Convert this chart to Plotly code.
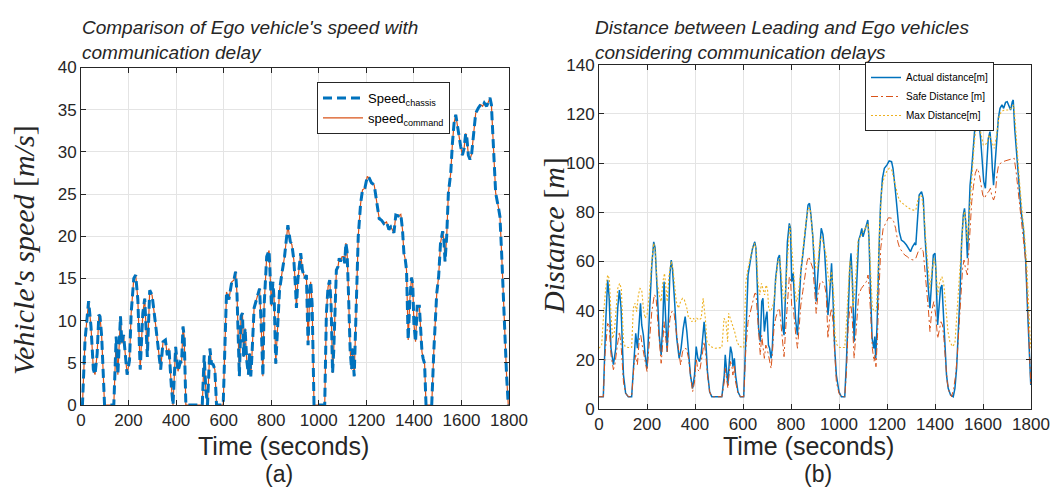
import plotly.graph_objects as go

# ---------------- data: (a) speed ----------------
speed_time = [0, 6, 17, 32, 42, 52, 59, 68, 75, 80, 87, 99, 138, 148, 155, 166, 172, 179, 194, 204,
              211, 222, 230, 239, 249, 260, 268, 272, 275, 279, 289, 299, 313, 324, 335, 345, 355, 363, 370, 380,
              387, 398, 408, 418, 423, 429, 434, 441, 510, 518, 525, 532, 542, 549, 556, 563, 570, 598, 605, 612,
              622, 634, 643, 650, 656, 662, 666, 673, 679, 684, 690, 697, 704, 709, 714, 719, 728, 739, 751, 758,
              765, 770, 781, 791, 796, 801, 807, 813, 819, 826, 835, 845, 856, 870, 880, 887, 895, 902, 906, 912,
              920, 924, 931, 941, 948, 955, 962, 966, 972, 980, 1025, 1032, 1039, 1046, 1052, 1058, 1063, 1067, 1074, 1081,
              1086, 1091, 1098, 1105, 1109, 1114, 1119, 1125, 1132, 1138, 1142, 1149, 1156, 1166, 1176, 1184, 1194, 1204, 1212, 1222,
              1233, 1243, 1254, 1264, 1274, 1285, 1295, 1303, 1316, 1324, 1334, 1345, 1352, 1358, 1364, 1369, 1376, 1383, 1390, 1395,
              1400, 1407, 1414, 1423, 1428, 1434, 1439, 1445, 1451, 1475, 1484, 1496, 1504, 1512, 1521, 1526, 1531, 1538, 1545, 1555,
              1562, 1569, 1576, 1583, 1590, 1597, 1604, 1611, 1618, 1623, 1629, 1636, 1643, 1650, 1660, 1671, 1681, 1689, 1696, 1706,
              1716, 1720, 1726, 1734, 1744, 1755, 1762, 1769, 1776, 1783, 1790, 1797]
speed_chassis = [0, 0, 7.7, 12.3, 9.3, 4.2, 3.6, 6.1, 10.7, 10.5, 8.1, 0, 0, 8.1, 3.6, 10.5, 7.3, 8.3, 3.6, 5.3,
                 10.9, 15.0, 15.4, 12.5, 4.2, 10.9, 12.6, 10.1, 7.3, 5.7, 13.6, 13.0, 9.7, 6.9, 4.2, 7.5, 7.7, 5.9, 6.7, 2.2,
                 0, 6.9, 4.0, 5.1, 5.0, 9.3, 8.1, 0, 0, 5.9, 1.8, 0, 6.7, 4.9, 4.8, 4.2, 0, 0, 8.1, 13.4,
                 12.5, 14.6, 14.8, 15.8, 13.2, 6.9, 3.4, 10.5, 10.9, 5.7, 9.1, 5.3, 3.6, 6.1, 3.4, 5.9, 11.5, 12.6, 13.8, 9.3,
                 3.4, 11.7, 17.6, 18.3, 14.8, 11.7, 14.6, 12.1, 4.9, 9.1, 13.6, 15.6, 17.6, 21.3, 19.4, 19.0, 17.2, 14.0, 11.5, 14.8,
                 16.8, 18.0, 16.0, 15.0, 15.4, 7.1, 13.6, 14.6, 12.0, 0, 0, 10.9, 14.0, 14.8, 11.7, 3.8, 6.5, 10.9, 16.0, 16.4,
                 17.4, 17.0, 17.6, 17.6, 16.8, 19.2, 18.2, 13.2, 6.5, 4.2, 6.7, 3.4, 10.5, 20.0, 23.9, 25.5, 25.7, 27.1, 26.9, 26.3,
                 26.1, 24.3, 22.1, 21.9, 21.5, 21.7, 20.8, 21.1, 20.4, 22.5, 22.4, 22.6, 20.8, 18.0, 17.2, 16.0, 7.7, 12.5, 15.1, 14.4,
                 9.7, 7.5, 11.7, 11.7, 9.3, 6.3, 5.5, 4.9, 0, 0, 6.5, 13.2, 15.2, 19.2, 20.6, 19.6, 17.0, 20.0, 25.1, 27.5,
                 31.0, 33.4, 34.4, 33.0, 31.6, 30.6, 29.6, 30.4, 32.2, 31.6, 29.6, 29.1, 29.8, 31.8, 34.6, 35.2, 35.6, 35.4, 35.8, 35.4,
                 36.0, 36.4, 35.6, 30.6, 25.1, 23.5, 22.3, 18.0, 13.2, 7.3, 3.4, 0]
speed_command = [0, 0, 7.7, 12.3, 9.3, 4.2, 3.6, 6.1, 10.7, 10.5, 8.1, 0, 0, 8.1, 3.6, 10.5, 7.3, 8.3, 3.6, 5.3,
                 10.9, 15.0, 15.4, 12.5, 4.2, 10.9, 12.6, 10.1, 7.3, 5.7, 13.6, 13.0, 9.7, 6.9, 4.2, 7.5, 7.7, 5.9, 6.7, 2.2,
                 0, 6.9, 4.0, 5.1, 5.0, 9.3, 8.1, 0, 0, 5.9, 1.8, 0, 6.7, 4.9, 4.8, 4.2, 0, 0, 8.1, 13.4,
                 12.5, 14.6, 14.8, 15.8, 13.2, 6.9, 3.4, 10.5, 10.9, 5.7, 9.1, 5.3, 3.6, 6.1, 3.4, 5.9, 11.5, 12.6, 13.8, 9.3,
                 3.4, 11.7, 17.6, 18.3, 14.8, 11.7, 14.6, 12.1, 4.9, 9.1, 13.6, 15.6, 17.6, 21.3, 19.4, 19.0, 17.2, 14.0, 11.5, 14.8,
                 16.8, 18.0, 16.0, 15.0, 15.4, 7.1, 13.6, 14.6, 12.0, 0, 0, 10.9, 14.0, 14.8, 11.7, 3.8, 6.5, 10.9, 16.0, 16.4,
                 17.4, 17.0, 17.6, 17.6, 16.8, 19.2, 18.2, 13.2, 6.5, 4.2, 6.7, 3.4, 10.5, 20.0, 23.9, 25.5, 25.7, 27.1, 26.9, 26.3,
                 26.1, 24.3, 22.1, 21.9, 21.5, 21.7, 20.8, 21.1, 20.4, 22.5, 22.4, 22.6, 20.8, 18.0, 17.2, 16.0, 7.7, 12.5, 15.1, 14.4,
                 9.7, 7.5, 11.7, 11.7, 9.3, 6.3, 5.5, 4.9, 0, 0, 6.5, 13.2, 15.2, 19.2, 20.6, 19.6, 17.0, 20.0, 25.1, 27.5,
                 31.0, 33.4, 34.4, 33.0, 31.6, 30.6, 29.6, 30.4, 32.2, 31.6, 29.6, 29.1, 29.8, 31.8, 34.6, 35.2, 35.6, 35.4, 35.8, 35.4,
                 36.0, 36.4, 35.6, 30.6, 25.1, 23.5, 22.3, 18.0, 13.2, 7.3, 3.4, 0]

# ---------------- data: (b) distances ----------------
actual_time = [0, 18, 28, 36, 42, 50, 60, 70, 78, 85, 92, 102, 111, 122, 136, 146, 153, 160, 167, 173,
               178, 185, 192, 200, 210, 220, 228, 234, 242, 251, 259, 266, 271, 278, 284, 290, 295, 301, 306, 315,
               324, 334, 342, 351, 359, 366, 373, 381, 390, 398, 405, 412, 419, 426, 433, 438, 445, 452, 461, 470,
               512, 522, 526, 533, 537, 543, 548, 554, 558, 564, 569, 579, 589, 603, 612, 621, 631, 640, 649, 654,
               660, 665, 672, 678, 683, 689, 695, 700, 706, 711, 717, 722, 729, 736, 746, 752, 757, 766, 771, 777,
               785, 793, 798, 803, 809, 814, 820, 827, 834, 841, 849, 857, 864, 871, 877, 883, 891, 898, 905, 912,
               919, 926, 933, 940, 947, 954, 961, 969, 975, 982, 989, 1000, 1010, 1024, 1031, 1038, 1045, 1050, 1056, 1063,
               1068, 1075, 1082, 1089, 1095, 1100, 1107, 1114, 1120, 1125, 1131, 1138, 1145, 1149, 1153, 1159, 1166, 1173, 1181, 1189,
               1200, 1209, 1219, 1225, 1234, 1242, 1251, 1260, 1270, 1281, 1290, 1298, 1306, 1315, 1320, 1326, 1334, 1344, 1351, 1358,
               1365, 1372, 1379, 1386, 1393, 1400, 1404, 1411, 1416, 1423, 1429, 1434, 1441, 1448, 1455, 1465, 1476, 1483, 1490, 1497,
               1504, 1511, 1518, 1523, 1529, 1535, 1540, 1546, 1553, 1560, 1568, 1576, 1583, 1590, 1597, 1603, 1610, 1615, 1622, 1629,
               1635, 1639, 1644, 1650, 1657, 1664, 1671, 1679, 1686, 1694, 1701, 1708, 1715, 1722, 1726, 1732, 1741, 1750, 1759, 1768,
               1778, 1786, 1793, 1799]
actual_distance = [5, 5, 35.5, 52.5, 46, 24.7, 18, 24.7, 41, 48.4, 41, 13.8, 6.4, 5, 5, 23.3, 30.8, 24.7, 35.5, 43,
                   34.2, 30, 22, 16.5, 38.2, 58.6, 68, 65.4, 49, 30, 22, 35.5, 51.8, 35.5, 23.3, 38.2, 54.5, 60.6, 57.2, 43.7,
                   28.7, 20.6, 24.7, 32.8, 37.6, 31.5, 22, 13.8, 8.4, 13.8, 25.4, 20.6, 19.3, 22.6, 30, 35.5, 27.4, 15.2, 7, 5,
                   5, 13.8, 22, 13.8, 9.8, 19.3, 25.4, 22.6, 17.2, 20.6, 13.8, 7, 5, 5, 28.7, 54.5, 60.6, 65.4, 68, 65.4,
                   49, 32.8, 27.4, 43.7, 45, 31.5, 36.9, 39.6, 26, 24.7, 20.6, 24.7, 41, 53.2, 61.3, 62.6, 54.5, 32.8, 30, 49,
                   68, 75.5, 73.5, 51.8, 55.2, 45, 35.5, 30, 41, 55.9, 62.6, 70.8, 76.2, 83, 83.7, 79, 70, 55, 43.7, 55,
                   65.4, 73.5, 71, 64, 52, 38.2, 46.4, 59.3, 45, 24.7, 13.8, 7, 5, 5, 19.3, 39.6, 57.2, 63.3, 51.8, 27.4,
                   36.9, 54.5, 68.7, 70.8, 73.5, 70, 72, 74.8, 76.9, 69.4, 49, 28.7, 24.7, 29.5, 20.6, 35.5, 62.6, 83, 93.8, 97.9,
                   99.3, 100.9, 100.6, 97.9, 89.8, 80.3, 72.1, 68.7, 68, 66.7, 65.4, 64, 66, 67.4, 66.7, 76.2, 87, 88.4, 85.7, 70.8,
                   57.2, 49, 41, 53.2, 62.6, 63.3, 56, 34.2, 41, 49, 50.4, 41, 24.7, 13.8, 8.4, 5.7, 5, 8.4, 16.5, 30,
                   46.4, 68, 79, 81.6, 74.8, 61.3, 79, 91, 97.9, 107.4, 116.9, 120.7, 116.9, 110, 99.3, 92.5, 89.8, 97.9, 110, 112.8,
                   106, 97.9, 91, 99.3, 110, 118.2, 122.3, 123.7, 122.3, 124.7, 125, 123, 121.6, 125, 125.7, 114.2, 102, 88.4, 80.3, 73.5,
                   60, 39.6, 19.3, 9.8]

safe_time = [0, 18, 25, 36, 42, 50, 60, 66, 75, 85, 92, 102, 111, 122, 136, 146, 153, 160, 168, 174,
             180, 192, 200, 210, 220, 231, 238, 245, 253, 259, 266, 271, 278, 284, 290, 296, 303, 312, 320, 331,
             340, 348, 356, 365, 373, 381, 390, 398, 405, 412, 419, 426, 433, 438, 445, 452, 461, 470, 512, 522,
             526, 533, 537, 543, 548, 554, 558, 564, 569, 579, 589, 603, 612, 621, 631, 640, 649, 654, 660, 665,
             672, 678, 683, 689, 695, 700, 706, 711, 717, 722, 729, 736, 746, 752, 757, 766, 771, 777, 785, 793,
             798, 803, 809, 814, 820, 827, 834, 841, 849, 857, 867, 874, 883, 891, 898, 905, 912, 922, 931, 940,
             947, 954, 961, 969, 975, 982, 989, 1000, 1010, 1024, 1031, 1038, 1045, 1050, 1056, 1063, 1068, 1075, 1082, 1093,
             1103, 1114, 1121, 1126, 1132, 1139, 1146, 1150, 1154, 1160, 1167, 1174, 1184, 1195, 1206, 1219, 1228, 1236, 1245, 1253,
             1264, 1274, 1284, 1295, 1309, 1320, 1330, 1344, 1351, 1358, 1365, 1372, 1379, 1386, 1395, 1403, 1411, 1418, 1425, 1431,
             1437, 1444, 1451, 1459, 1469, 1478, 1486, 1493, 1501, 1508, 1515, 1521, 1527, 1535, 1540, 1546, 1553, 1560, 1568, 1576,
             1584, 1592, 1599, 1607, 1615, 1624, 1631, 1636, 1644, 1651, 1658, 1665, 1678, 1692, 1706, 1720, 1730, 1738, 1748, 1757,
             1768, 1778, 1786, 1793, 1799]
safe_distance = [5, 5, 22, 34.8, 34, 22, 16, 18, 24.7, 31.5, 26, 11, 6.4, 5, 5, 18, 22, 18, 28.7, 30,
                 26, 19.3, 15.2, 27.4, 39.6, 46.6, 45, 35.5, 24.7, 18.6, 27.4, 35.5, 28.7, 23.3, 31.5, 36.9, 39.6, 39.6, 32.8, 23.3,
                 17.9, 23.3, 24.7, 24.4, 20.6, 13.8, 7, 11, 20.6, 15.9, 15.2, 19.3, 24.7, 27.4, 22, 13.8, 7, 5, 5, 11,
                 16.5, 10.5, 8.4, 15.2, 19.3, 17.2, 13.8, 18, 11, 6.4, 5, 5, 24.7, 35.5, 39.6, 43.7, 47, 47, 38.2, 28.7,
                 22, 30, 26, 20.6, 26, 24.7, 22, 19.3, 16.5, 22, 32.8, 36.9, 40.3, 41, 35.5, 24.7, 21.3, 31.5, 43.7, 53.8,
                 53.2, 41.7, 41.7, 35.5, 30, 24.7, 32.8, 42.3, 47.7, 53.2, 60, 62, 59.3, 57.2, 49, 38.9, 46.4, 51.8, 51.8, 50.4,
                 46.4, 28.7, 36.9, 41, 35.5, 22, 11, 6.4, 5, 5, 15.2, 32.8, 41, 42.3, 35.5, 20.6, 27.4, 39.6, 46.4, 49,
                 50.4, 51.8, 54.5, 49, 38.2, 24.7, 19.3, 22, 17.2, 28.7, 49, 65.4, 73.5, 75.5, 77.8, 77.6, 76.2, 73.5, 68, 65.4,
                 64, 62.6, 62, 61, 60.6, 61.3, 64, 65.6, 64, 57.2, 49, 41, 31.5, 39.6, 43.7, 38.2, 28.7, 32.8, 35.5, 34.2,
                 28.7, 19.3, 11, 7, 5, 8.4, 13.8, 22, 35.5, 49, 57.2, 60.6, 57.2, 54.5, 62.6, 73.5, 84.3, 90.4, 95.9, 97.9,
                 95.9, 91.1, 87, 85.7, 87.7, 88.4, 89.8, 87, 85, 87, 95.2, 99.3, 100.3, 100.9, 101.3, 102, 102, 96.5, 87, 77.6,
                 70.1, 60, 42.3, 21, 9.8]

max_time = [0, 11, 21, 28, 36, 43, 50, 57, 64, 71, 78, 86, 93, 102, 109, 122, 136, 143, 150, 157,
            164, 171, 178, 185, 192, 200, 209, 220, 228, 234, 242, 251, 259, 266, 273, 278, 284, 292, 301, 308,
            315, 322, 331, 340, 348, 356, 366, 373, 381, 387, 394, 401, 408, 417, 426, 434, 443, 450, 464, 484,
            512, 521, 529, 536, 540, 547, 557, 565, 575, 585, 603, 612, 621, 631, 640, 649, 656, 662, 670, 677,
            683, 690, 696, 702, 707, 714, 721, 729, 736, 746, 753, 760, 767, 774, 779, 788, 795, 802, 809, 816,
            823, 830, 839, 846, 855, 863, 871, 880, 884, 894, 903, 911, 919, 928, 936, 947, 954, 961, 969, 978,
            983, 992, 1003, 1024, 1031, 1038, 1045, 1052, 1058, 1065, 1072, 1079, 1089, 1100, 1111, 1121, 1126, 1132, 1139, 1149,
            1156, 1163, 1170, 1178, 1187, 1198, 1209, 1220, 1228, 1237, 1246, 1256, 1267, 1281, 1295, 1309, 1320, 1327, 1337, 1345,
            1354, 1362, 1370, 1379, 1387, 1396, 1404, 1411, 1420, 1429, 1437, 1445, 1454, 1462, 1473, 1483, 1493, 1501, 1511, 1518,
            1523, 1529, 1535, 1541, 1548, 1556, 1564, 1574, 1580, 1587, 1594, 1601, 1610, 1618, 1626, 1633, 1640, 1647, 1654, 1661,
            1668, 1678, 1688, 1699, 1710, 1720, 1728, 1734, 1741, 1752, 1763, 1773, 1783, 1791, 1797, 1800]
max_distance = [24.7, 26, 41, 49, 54.5, 53, 38.2, 28.7, 31.5, 41, 49, 51.1, 49, 27.4, 25.4, 25, 25, 41, 43, 39.6,
                46.4, 49, 48.4, 41, 36.9, 38.2, 46.4, 60, 67.4, 64.7, 51.8, 46.4, 43.7, 51.8, 55.2, 50.4, 43.7, 54.5, 60, 57.2,
                50.4, 43.7, 41, 43.7, 45, 44.3, 41, 36.9, 36.9, 35.5, 36.9, 35.5, 36.9, 36.2, 36.9, 45, 36.9, 27.4, 25.4, 24.7,
                25, 36.9, 35.5, 27.4, 38.9, 36.9, 34.2, 31.5, 27.4, 25.4, 25, 51.8, 57.2, 61.3, 65.4, 67.4, 64, 51.8, 46.4, 51.1,
                49, 46.4, 50.4, 49, 41, 39.6, 41, 43.7, 51.8, 60, 61.3, 54.5, 46.4, 43.7, 51.8, 66.7, 74.8, 67.4, 57.2, 49,
                43.7, 46.4, 54.5, 62.6, 69.4, 76.2, 81.6, 81.6, 77.6, 66.7, 57.2, 57.2, 68, 70.1, 66.7, 62.6, 54.5, 50.4, 55.9, 46.4,
                30, 26, 25, 25, 35.5, 49, 60, 57.2, 41, 46.4, 57.2, 68, 70.1, 72.1, 74.2, 75.5, 68, 51.8, 41, 39.6,
                40.3, 55.9, 76.2, 89.8, 93.8, 96.5, 97.9, 97.2, 93.8, 89.8, 86.4, 84.3, 83.4, 82.3, 81.4, 80.9, 80.9, 84.3, 87, 86.4,
                80.3, 68, 57.2, 49, 55.9, 61.3, 57.2, 46.4, 51.8, 53.8, 50.4, 41, 31.5, 27.4, 25.4, 26.7, 41, 55.9, 68, 77.6,
                80.3, 76.2, 68, 76.2, 87, 99.3, 108.7, 117.6, 118.3, 114.2, 110, 107.4, 107.4, 108.7, 111.5, 109.4, 107.4, 106, 110, 115.5,
                119.6, 121, 121.6, 121.6, 121.6, 123, 123.7, 116.9, 106, 92.5, 80.3, 70.8, 57.2, 38.2, 27.4, 24.7]

time_ticks = [0, 200, 400, 600, 800, 1000, 1200, 1400, 1600, 1800]
speed_ticks = [0, 5, 10, 15, 20, 25, 30, 35, 40]
distance_ticks = [0, 20, 40, 60, 80, 100, 120, 140]

# ---------------- figure ----------------
W, H = 1050, 487
BLUE = "#0072BD"
ORANGE = "#D95319"
YELLOW = "#EDB120"
DARK = "#262626"
SANS = "Liberation Sans, Arial, Helvetica, sans-serif"
SERIF = "Liberation Serif, Times New Roman, serif"


def px_x(p):
    return p / W


def px_y(p):
    return 1 - p / H


fig = go.Figure()

fig.add_trace(go.Scatter(x=speed_time, y=speed_command, mode="lines", name="speed<sub>command</sub>",
                         line=dict(color=ORANGE, width=1.2), xaxis="x", yaxis="y",
                         legend="legend", legendrank=2))
fig.add_trace(go.Scatter(x=speed_time, y=speed_chassis, mode="lines", name="Speed<sub>chassis</sub>",
                         line=dict(color=BLUE, width=3, dash="9px,5px"), xaxis="x", yaxis="y",
                         legend="legend", legendrank=1))

fig.add_trace(go.Scatter(x=actual_time, y=actual_distance, mode="lines", name="Actual distance[m]",
                         line=dict(color=BLUE, width=1.5), xaxis="x2", yaxis="y2", legend="legend2"))
fig.add_trace(go.Scatter(x=safe_time, y=safe_distance, mode="lines", name="Safe Distance [m]",
                         line=dict(color=ORANGE, width=1, dash="7px,3px,2px,3px"), xaxis="x2", yaxis="y2",
                         legend="legend2"))
fig.add_trace(go.Scatter(x=max_time, y=max_distance, mode="lines", name="Max Distance[m]",
                         line=dict(color=YELLOW, width=1.1, dash="2px,2px"), xaxis="x2", yaxis="y2",
                         legend="legend2"))

axis_style = dict(showline=True, linecolor=DARK, linewidth=1, mirror="ticks", ticks="inside",
                  ticklen=5, tickcolor=DARK, showgrid=True, gridcolor="#e4e4e4", gridwidth=1,
                  zeroline=False, automargin=False,
                  tickfont=dict(family=SANS, size=17, color=DARK))

fig.update_layout(
    width=W, height=H, margin=dict(l=0, r=0, t=0, b=0, autoexpand=False),
    paper_bgcolor="white", plot_bgcolor="white",
    showlegend=True, hovermode=False,
    xaxis=dict(domain=[px_x(81), px_x(509)], range=[0, 1800], tickvals=time_ticks, anchor="y", **axis_style),
    yaxis=dict(domain=[px_y(405), px_y(67.5)], range=[0, 40], tickvals=speed_ticks, anchor="x", **axis_style),
    xaxis2=dict(domain=[px_x(599), px_x(1031)], range=[0, 1800], tickvals=time_ticks, anchor="y2", **axis_style),
    yaxis2=dict(domain=[px_y(409), px_y(64.8)], range=[0, 140], tickvals=distance_ticks, anchor="x2", **axis_style),
    legend=dict(x=px_x(317), y=px_y(82), xanchor="left", yanchor="top", bgcolor="white",
                bordercolor=DARK, borderwidth=1, font=dict(family=SANS, size=13, color="black"),
                itemwidth=40, tracegroupgap=0),
    legend2=dict(x=px_x(865), y=px_y(62), xanchor="left", yanchor="top", bgcolor="white",
                 bordercolor=DARK, borderwidth=1, font=dict(family=SANS, size=10, color="black"),
                 itemwidth=30, tracegroupgap=0),
)

annotations = [
    dict(text="<i>Comparison of Ego vehicle's speed with<br>communication delay</i>",
         x=px_x(80), y=px_y(15), xanchor="left", yanchor="top", align="left",
         font=dict(family=SANS, size=19, color=DARK)),
    dict(text="<i>Distance between Leading and Ego vehicles<br>considering communication delays</i>",
         x=px_x(593), y=px_y(15), xanchor="left", yanchor="top", align="left",
         font=dict(family=SANS, size=19, color=DARK)),
    dict(text="<i>Vehicle's speed</i> [<i>m/s</i>]", x=px_x(24), y=px_y(250), textangle=-90,
         xanchor="center", yanchor="middle", font=dict(family=SERIF, size=30, color=DARK)),
    dict(text="<i>Distance</i> [<i>m</i>]", x=px_x(553), y=px_y(236), textangle=-90,
         xanchor="center", yanchor="middle", font=dict(family=SERIF, size=30, color=DARK)),
    dict(text="Time (seconds)", x=px_x(283), y=px_y(446), xanchor="center", yanchor="middle",
         font=dict(family=SANS, size=25, color=DARK)),
    dict(text="Time (seconds)", x=px_x(808), y=px_y(446), xanchor="center", yanchor="middle",
         font=dict(family=SANS, size=25, color=DARK)),
    dict(text="(a)", x=px_x(279), y=px_y(474), xanchor="center", yanchor="middle",
         font=dict(family=SANS, size=23, color=DARK)),
    dict(text="(b)", x=px_x(818), y=px_y(474), xanchor="center", yanchor="middle",
         font=dict(family=SANS, size=23, color=DARK)),
]
for a in annotations:
    a.update(xref="paper", yref="paper", showarrow=False)
fig.update_layout(annotations=annotations)

# remove the default page margin so the figure sits at the window's top-left corner
fig.write_html("out.html",
               config={"displayModeBar": False, "staticPlot": True},
               post_script="document.body.style.margin='0';document.body.style.overflow='hidden';")
